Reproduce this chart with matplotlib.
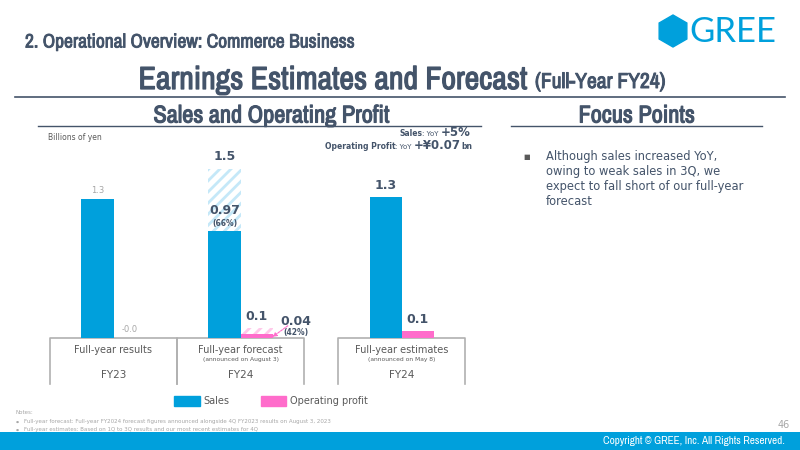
import matplotlib
matplotlib.use("Agg")
from matplotlib import pyplot as plt, patches
from matplotlib import patheffects as pe
from matplotlib.lines import Line2D
from matplotlib.transforms import IdentityTransform

# data
groups = ['Full-year results', 'Full-year forecast', 'Full-year estimates']
group_notes = ['', '(announced on August 3)', '(announced on May 8)']
fiscal_years = ['FY23', 'FY24', 'FY24']
sales = [1.26, 1.54, 1.28]
op_profit = [-0.004, 0.09, 0.06]
sales_progress = 0.97
profit_progress = 0.04
progress_pct = ['66%', '42%']
series_names = ['Sales', 'Operating profit']
focus_points = ['Although sales increased YoY,\nowing to weak sales in 3Q, we\nexpect to fall short of our full-year\nforecast']
notes = ['Full-year forecast: Full-year FY2024 forecast figures announced alongside 4Q FY2023 results on August 3, 2023',
         'Full-year estimates: Based on 1Q to 3Q results and our most recent estimates for 4Q']

BLUE = '#00a0dc'
PINK = '#ff6ccb'
DARK = '#44546a'
GRAY = '#a6a6a6'
TXT = '#595959'
NARROW = ['Archivo Narrow', 'DejaVu Sans']


def bold(lw):
    # fake a heavier weight with a thin outline
    return [pe.withStroke(linewidth=lw, foreground=DARK)]


plt.rcParams['font.family'] = ['DejaVu Sans']
plt.rcParams['hatch.linewidth'] = 2.0

fig = plt.figure(figsize=(8, 4.5), dpi=100)


def px(x, y):
    return x / 800, 1 - y / 450


# header
fig.text(*px(25, 42), '2. Operational Overview: Commerce Business', family=NARROW,
         weight='bold', fontsize=14, color=DARK, va='center', path_effects=bold(0.6))
hexa = patches.RegularPolygon((673, 450 - 31), numVertices=6, radius=16, orientation=0,
                              color=BLUE, transform=IdentityTransform())
fig.add_artist(hexa)
fig.text(*px(689, 32), 'GREE', family=['Lato', 'DejaVu Sans'], weight='normal',
         fontsize=25, color=BLUE, va='center')
fig.text(*px(527, 80), 'Earnings Estimates and Forecast', family=NARROW, weight='bold',
         fontsize=23, color=DARK, va='center', ha='right', path_effects=bold(0.9))
fig.text(*px(535, 82), '(Full-Year FY24)', family=NARROW, weight='bold',
         fontsize=15.5, color=DARK, va='center', path_effects=bold(0.7))
fig.add_artist(Line2D([15 / 800, 785 / 800], [1 - 97 / 450] * 2, color=DARK, lw=1.2))

fig.text(*px(272, 116), 'Sales and Operating Profit', family=NARROW, weight='bold',
         fontsize=17.5, color=DARK, va='center', ha='center', path_effects=bold(0.8))
fig.add_artist(Line2D([38 / 800, 481 / 800], [1 - 126 / 450] * 2, color=DARK, lw=1))
fig.text(*px(637, 116), 'Focus Points', family=NARROW, weight='bold',
         fontsize=17.5, color=DARK, va='center', ha='center', path_effects=bold(0.8))
fig.add_artist(Line2D([511 / 800, 762 / 800], [1 - 126 / 450] * 2, color=DARK, lw=1))

fig.text(*px(48, 137), 'Billions of yen', fontsize=5.5, color=TXT, va='center')

# focus points
fig.text(*px(523, 157), '■', fontsize=5, color=TXT, va='center')
fig.text(*px(546, 150), focus_points[0], fontsize=8.3, color=DARK, va='top', linespacing=1.2)

# YoY notes, built right to left
renderer = fig.canvas.get_renderer()


def right_pieces(x, y, pieces):
    for s, size, weight in reversed(pieces):
        tt = fig.text(x / 800, 1 - y / 450, s, fontsize=size, weight=weight, color=DARK,
                      ha='right', va='baseline')
        x -= tt.get_window_extent(renderer).width


right_pieces(471, 136, [('Sales', 5.5, 'bold'), (': YoY ', 5, 'normal'), ('+5%', 8.5, 'bold')])
right_pieces(472, 149, [('Operating Profit', 5.5, 'bold'), (': YoY ', 5, 'normal'),
                        ('+¥0.07', 8.5, 'bold'), ('bn', 5.5, 'bold')])

# chart
ax = fig.add_axes([50 / 800, 112 / 450, 416 / 800, 208 / 450])
ax.set_xlim(0, 416 / 127)
ax.set_ylim(0, 208 / 110)
ax.axis('off')

centers = [0.5, 1.5, 2.768]
w = 0.252
sx = [c - w / 2 for c in centers]
ox = [c + w / 2 for c in centers]

# forecast bars hatched, actual progress solid
ax.bar(sx[1], sales[1], w, facecolor='white', edgecolor='#c5e8f8', hatch='///', lw=0)
ax.bar(ox[1], op_profit[1], w, facecolor='white', edgecolor='#ffc9ea', hatch='///', lw=0)
ax.bar([sx[0], sx[2]], [sales[0], sales[2]], w, color=BLUE)
ax.bar(sx[1], sales_progress, w, color=BLUE)
ax.bar([ox[0], ox[2]], [op_profit[0], op_profit[2]], w, color=PINK)
ax.bar(ox[1], profit_progress, w, color=PINK)

lab = dict(ha='center', va='bottom', textcoords='offset points', annotation_clip=False)
ax.annotate(f'{sales[0]:.1f}', (sx[0], sales[0]), xytext=(0, 3), fontsize=6, color=GRAY, **lab)
ax.annotate(f'{op_profit[0]:.1f}', (ox[0], 0), xytext=(0, 3), fontsize=6, color=GRAY, **lab)
for i in (1, 2):
    ax.annotate(f'{sales[i]:.1f}', (sx[i], sales[i]), xytext=(0, 4), fontsize=9,
                weight='bold', color=DARK, **lab)
    ax.annotate(f'{op_profit[i]:.1f}', (ox[i], op_profit[i]), xytext=(0, 4), fontsize=9,
                weight='bold', color=DARK, **lab)
ax.annotate(f'{sales_progress:.2f}', (sx[1], sales_progress), xytext=(0, 10), fontsize=9,
            weight='bold', color=DARK, **lab)
ax.annotate(f'({progress_pct[0]})', (sx[1], sales_progress), xytext=(0, 2.5), fontsize=5.5,
            weight='bold', color=DARK, **lab)
ax.annotate(f'{profit_progress:.2f}', (ox[1] + w / 2, 0), xytext=(17, 7.5), fontsize=9,
            weight='bold', color=DARK, **lab)
ax.annotate(f'({progress_pct[1]})', (ox[1] + w / 2, 0), xytext=(17, 1), fontsize=5.5,
            weight='bold', color=DARK, **lab)
ax.annotate('', (ox[1] + w / 2, 0.01), xytext=(11, 8), textcoords='offset points',
            arrowprops=dict(arrowstyle='-|>', linestyle=(0, (2, 1)), color=PINK, lw=0.8,
                            mutation_scale=6, shrinkA=0, shrinkB=0))

# category boxes under the bars
box_bottom = -46 / 110
for i, c in enumerate(centers):
    l, r = c - 0.5, c + 0.5
    ax.plot([l, l, r, r], [box_bottom, 0, 0, box_bottom], color='#b0b0b0', lw=1.2,
            clip_on=False, zorder=0)
    ax.text(c, -12 / 110, groups[i], ha='center', va='center', fontsize=7, color=TXT)
    if group_notes[i]:
        ax.text(c, -21 / 110, group_notes[i], ha='center', va='center', fontsize=4.3, color=TXT)
    ax.text(c, -37 / 110, fiscal_years[i], ha='center', va='center', fontsize=7.5, color=TXT)

handles = [patches.Patch(color=BLUE), patches.Patch(color=PINK)]
fig.legend(handles, series_names, ncol=2, loc='center', bbox_to_anchor=px(271, 401),
           frameon=False, fontsize=7, handlelength=2.6, handleheight=1.3,
           columnspacing=3.2, handletextpad=0.4, labelcolor=TXT)

# notes and footer
fig.text(*px(15, 413), 'Notes:', fontsize=4, color=GRAY, va='center')
for k, n in enumerate(notes):
    fig.text(*px(16, 422 + 8 * k), '●', fontsize=2.5, color=GRAY, va='center')
    fig.text(*px(24, 422 + 8 * k), n, fontsize=4, color=GRAY, va='center')
fig.text(*px(790, 425), '46', fontsize=7, color=GRAY, va='center', ha='right')
fig.add_artist(patches.Rectangle((0, 0), 1, 18 / 450, transform=fig.transFigure,
                                 color=BLUE, lw=0))
fig.text(*px(785, 441), 'Copyright © GREE, Inc. All Rights Reserved.', family=NARROW,
         fontsize=8, color='white', va='center', ha='right')

fig.savefig('out.png', dpi=100)
